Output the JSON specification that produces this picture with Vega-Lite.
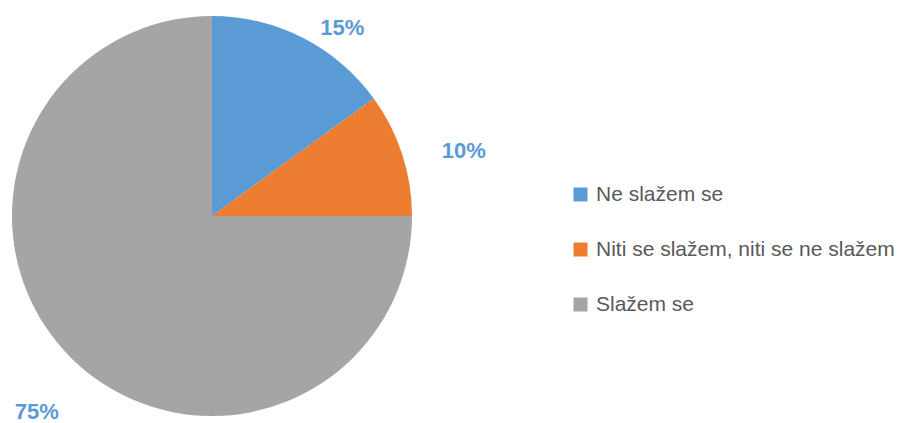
{
  "$schema": "https://vega.github.io/schema/vega-lite/v6.json",
  "autosize": "none",
  "width": 424,
  "height": 414,
  "padding": {"left": 0, "top": 9, "right": 475, "bottom": 0},
  "background": "white",
  "data": {"values": [
    {"category": "Ne slažem se", "value": 15, "label": "15%"},
    {"category": "Niti se slažem, niti se ne slažem", "value": 10, "label": "10%"},
    {"category": "Slažem se", "value": 75, "label": "75%"}
  ]},
  "encoding": {
    "theta": {"field": "value", "type": "quantitative", "stack": true},
    "order": {"field": "category", "type": "nominal", "sort": "ascending"},
    "color": {
      "field": "category", "type": "nominal",
      "scale": {"domain": ["Ne slažem se", "Niti se slažem, niti se ne slažem", "Slažem se"], "range": ["#5B9BD5", "#ED7D31", "#A5A5A5"]},
      "legend": {
        "title": null, "orient": "none", "legendX": 570, "legendY": 175,
        "symbolType": "square", "symbolSize": 196, "symbolStrokeWidth": 0,
        "labelFont": "Liberation Sans", "labelFontSize": 21, "labelColor": "#595959",
        "labelOffset": 5, "rowPadding": 33, "padding": 0, "labelLimit": 400
      }
    }
  },
  "layer": [
    {
      "mark": {"type": "arc", "outerRadius": 200}
    },
    {
      "mark": {
        "type": "text", "font": "Liberation Sans", "fontWeight": "bold", "fontSize": 22,
        "align": "center", "baseline": "middle", "fill": "#5B9BD5",
        "radius": {"expr": "datum.category === 'Ne slažem se' ? 229 : (datum.category === 'Slažem se' ? 263 : 260)"},
        "thetaOffset": {"expr": "datum.category === 'Ne slažem se' ? 0.134 : (datum.category === 'Slažem se' ? -0.056 : 0.061)"}
      },
      "encoding": {
        "text": {"field": "label"},
        "detail": {"field": "category", "type": "nominal"},
        "color": {"value": "#5B9BD5"}
      }
    }
  ],
  "config": {"view": {"stroke": null}}
}
